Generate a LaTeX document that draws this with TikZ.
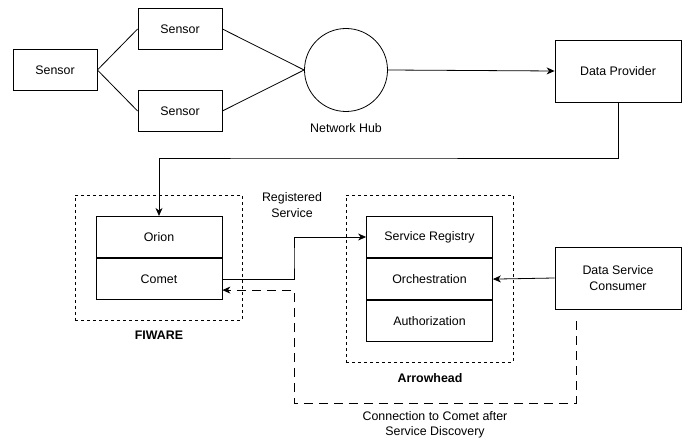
\documentclass[tikz,border=0pt]{standalone}
\usepackage{fontspec}
\setmainfont{Liberation Sans}
\usetikzlibrary{arrows.meta}

\tikzset{
    box/.style={draw, thick, minimum width=84pt, minimum height=41pt, inner sep=0pt},
    bigbox/.style={draw, thick, minimum width=126pt, minimum height=62pt, inner sep=0pt, align=center},
    stackbox/.style={draw, thick, minimum width=126pt, minimum height=41.3pt, inner sep=0pt},
    frame/.style={draw, thick, dash pattern=on 3pt off 3pt},
    conn/.style={thick},
    arr/.style={thick, -{Stealth[length=8pt, width=7pt, inset=2.5pt]}},
    discovery/.style={arr, dash pattern=on 9pt off 6pt},
}

\begin{document}
\begin{tikzpicture}[x=1pt, y=-1pt, font=\fontsize{12.4}{15.5}\selectfont]
    \useasboundingbox (0, 0) rectangle (688, 443);

    % sensors and hub
    \node[box] (s0) at (55, 70) {Sensor};
    \node[box] (s1) at (180, 29) {Sensor};
    \node[box] (s2) at (180, 111) {Sensor};
    \node[draw, thick, circle, minimum size=83pt, inner sep=0pt] (hub) at (346, 70) {};
    \node (hublabel) at (346, 128) {Network Hub};
    \node[bigbox] (dp) at (618, 71) {Data Provider};

    \foreach \s in {s1, s2} {
        \draw[conn] (s0.east) -- (\s.west);
        \draw[conn] (\s.east) -- (hub.west);
    }
    \draw[arr] (hub.east) -- (dp.west);

    % FIWARE
    \node[frame, minimum width=167pt, minimum height=125pt] (fiware) at (158.5, 257.5) {};
    \node[font=\fontsize{12.4}{15.5}\selectfont\bfseries] (fiwarelabel) at (159, 335) {FIWARE};
    \node[stackbox] (orion) at (159, 237) {Orion};
    \node[stackbox, anchor=north] (comet) at (orion.south) {Comet};

    % Arrowhead
    \node[frame, minimum width=167pt, minimum height=167pt] (ah) at (429.5, 278.5) {};
    \node[font=\fontsize{12.4}{15.5}\selectfont\bfseries] (ahlabel) at (430, 378) {Arrowhead};
    \node[stackbox] (reg) at (429.5, 237) {Service Registry};
    \node[stackbox, anchor=north] (orch) at (reg.south) {Orchestration};
    \node[stackbox, anchor=north] (auth) at (orch.south) {Authorization};

    \node[bigbox] (dsc) at (618, 278) {Data Service\\Consumer};

    % connections
    \coordinate (top) at (300, 158);
    \draw[arr] (dp.south) |- (top) -| (orion.north);

    \coordinate (mid) at (294, 258);
    \draw[arr] (comet.east) -| (mid) |- (reg.west);
    \node[align=center] (reglabel) at (292, 205) {Registered\\Service};

    \draw[arr] (dsc.west) -- (orch.east);

    \coordinate (bottom) at (294, 403);
    \draw[discovery] ([xshift=-42pt, yshift=-12pt]dsc.south) |- (bottom) |- ([yshift=-11pt]comet.east);
    \node[align=center] (disclabel) at (435, 425) {Connection to Comet after\\Service Discovery};
\end{tikzpicture}
\end{document}
